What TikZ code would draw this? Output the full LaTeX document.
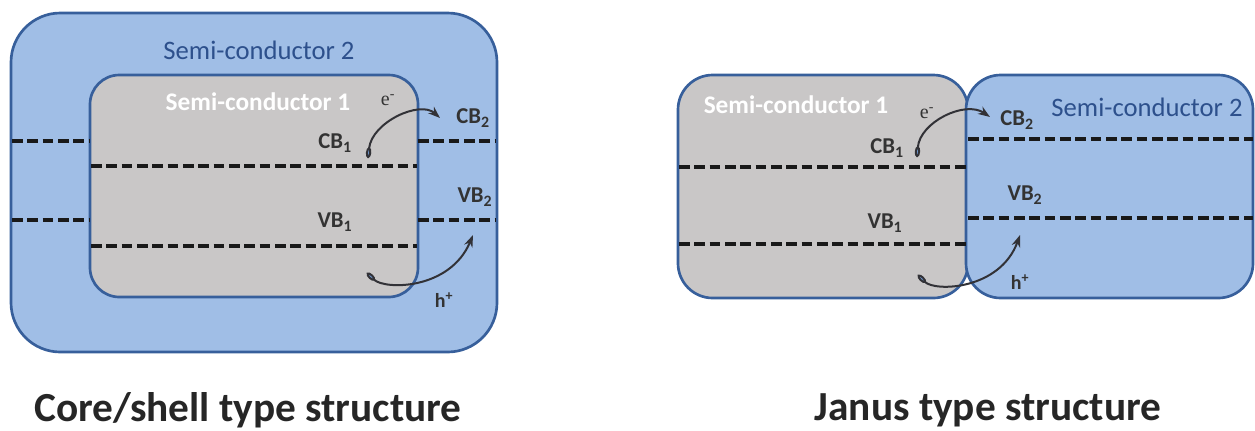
\documentclass[tikz,border=0pt]{standalone}
\usepackage{fontspec}
\setmainfont{Carlito}
\newfontfamily\elfont{Liberation Serif}
\usetikzlibrary{arrows.meta}
\definecolor{shellblue}{RGB}{160,190,230}
\definecolor{edgeblue}{RGB}{55,95,155}
\definecolor{coregray}{RGB}{201,199,199}
\definecolor{labelblue}{RGB}{45,80,140}
\definecolor{curvegray}{RGB}{50,50,55}
\definecolor{tipblue}{RGB}{110,150,205}

\begin{document}
\begin{tikzpicture}[x=0.75pt,y=0.75pt,yscale=-1,xscale=1,
    band/.style={line width=2.6pt, dash pattern=on 8pt off 3.5pt, black!90},
    region/.style={draw=edgeblue, line width=2pt},
    hop/.style={curvegray, line width=1.5pt, {Ellipse[length=8pt,width=4pt,fill=tipblue]}-{Stealth[length=9pt,width=6.5pt,fill=tipblue]}},
    lvl/.style={inner sep=0.75pt, font=\fontsize{17}{20}\selectfont\bfseries, text=black!80},
    carrier/.style={inner sep=0.75pt, font=\fontsize{15}{18}\selectfont, text=black!80},
    sctwo/.style={inner sep=0.75pt, font=\fontsize{20}{24}\selectfont, text=labelblue},
    scone/.style={inner sep=0.75pt, font=\fontsize{19}{23}\selectfont\bfseries, text=white},
    caption/.style={inner sep=0.75pt, font=\fontsize{31}{36}\selectfont\bfseries, text=black!85}]
    \useasboundingbox (0,0) rectangle (1255,430);

    %Shape: Rounded Rect [id:shellOuter]
    \draw [region, fill=shellblue, rounded corners=37pt] (11,13) rectangle (497,352) ;
    %Shape: Rounded Rect [id:shellCore]
    \draw [region, fill=coregray, rounded corners=22pt] (90,75) rectangle (418,297) ;
    %Straight Lines [id:shellCB2]
    \draw [band]   (12,141) -- (90,141) (418,141) -- (496,141) ;
    %Straight Lines [id:shellVB2]
    \draw [band]   (12,220) -- (90,220) (418,220) -- (496,220) ;
    %Straight Lines [id:shellCB1]
    \draw [band]   (91,166) -- (417,166) ;
    %Straight Lines [id:shellVB1]
    \draw [band]   (91,246) -- (417,246) ;

    %Shape: Rounded Rect [id:janusOne]
    \draw [region, fill=coregray, rounded corners=26pt] (678,75) rectangle (968,298) ;
    %Shape: Rounded Rect [id:janusTwo]
    \draw [region, fill=shellblue, rounded corners=26pt] (966,75) rectangle (1253,298) ;
    %Straight Lines [id:janusCB1]
    \draw [band]   (679,167) -- (966,167) ;
    %Straight Lines [id:janusVB1]
    \draw [band]   (679,244) -- (966,244) ;
    %Straight Lines [id:janusCB2]
    \draw [band]   (968,139) -- (1253,139) ;
    %Straight Lines [id:janusVB2]
    \draw [band]   (968,218) -- (1253,218) ;

    % Text Node
    \draw (259,50) node (shellTwo) [sctwo] {Semi-conductor 2};
    % Text Node
    \draw (258,102) node (shellOne) [scone] {Semi-conductor 1};
    % Text Node
    \draw (388,100) node (shellE) [carrier] {\elfont e\textsuperscript{-}};
    % Text Node
    \draw (473,118) node (shellCBtwo) [lvl] {CB\textsubscript{2}};
    % Text Node
    \draw (335,143) node (shellCBone) [lvl] {CB\textsubscript{1}};
    % Text Node
    \draw (475,197) node (shellVBtwo) [lvl] {VB\textsubscript{2}};
    % Text Node
    \draw (335,222) node (shellVBone) [lvl] {VB\textsubscript{1}};
    % Text Node
    \draw (444,300) node (shellH) [carrier, font=\fontsize{15}{18}\selectfont\bfseries] {h\textsuperscript{+}};

    % Text Node
    \draw (796,105) node (janusOneLbl) [scone] {Semi-conductor 1};
    % Text Node
    \draw (1147,107) node (janusTwoLbl) [sctwo] {Semi-conductor 2};
    % Text Node
    \draw (927,113) node (janusE) [carrier] {\elfont e\textsuperscript{-}};
    % Text Node
    \draw (887,148) node (janusCBone) [lvl] {CB\textsubscript{1}};
    % Text Node
    \draw (885,223) node (janusVBone) [lvl] {VB\textsubscript{1}};
    % Text Node
    \draw (1017,120) node (janusCBtwo) [lvl] {CB\textsubscript{2}};
    % Text Node
    \draw (1025,195) node (janusVBtwo) [lvl] {VB\textsubscript{2}};
    % Text Node
    \draw (1020,282) node (janusH) [carrier, font=\fontsize{15}{18}\selectfont\bfseries] {h\textsuperscript{+}};

    % Text Node
    \draw (248,410) node (shellTitle) [caption] {Core/shell type structure};
    % Text Node
    \draw (988,410) node (janusTitle) [caption] {Janus type structure};

    % carrier hops
    \coordinate (shellEa) at (368,158);
    \coordinate (shellEb) at (440,118);
    \coordinate (shellHa) at (367,273);
    \coordinate (shellHb) at (473,235);
    \coordinate (janusEa) at (917,157);
    \coordinate (janusEb) at (990,117);
    \coordinate (janusHa) at (918,275);
    \coordinate (janusHb) at (1020,235);
    \draw [hop] (shellEa) .. controls (372,122) and (420,100) .. (shellEb) ;
    \draw [hop] (shellHa) .. controls (385,290) and (450,290) .. (shellHb) ;
    \draw [hop] (janusEa) .. controls (920,122) and (965,100) .. (janusEb) ;
    \draw [hop] (janusHa) .. controls (935,292) and (1000,290) .. (janusHb) ;

\end{tikzpicture}
\end{document}
